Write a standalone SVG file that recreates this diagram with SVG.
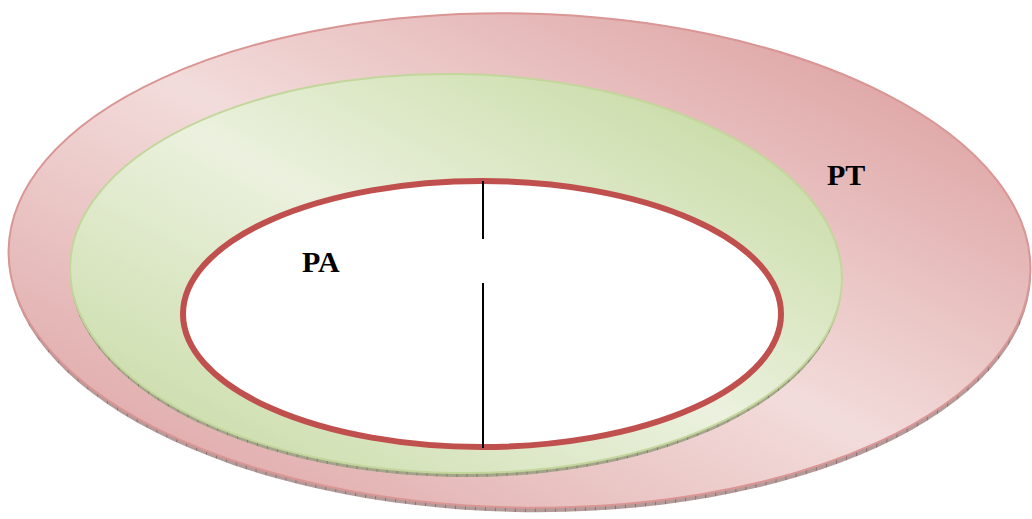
<svg xmlns="http://www.w3.org/2000/svg" width="1032" height="519" viewBox="0 0 1032 519">
  <style>
    .lbl { font-family: "Liberation Serif", "Times New Roman", serif; font-weight: bold; font-size: 30px; fill: #000; }
    .edge { stroke: none; }
    .lumen { fill: #ffffff; stroke: #c0504d; stroke-width: 6; }
    .axis { stroke: #000; stroke-width: 2; }
  </style>
  <defs>
    <linearGradient id="gPink" x1="1" y1="0" x2="0" y2="1">
      <stop offset="0" stop-color="#d99595"/>
      <stop offset="0.5" stop-color="#f2dcdb"/>
      <stop offset="1" stop-color="#dc9e9e"/>
    </linearGradient>
    <linearGradient id="gGreen" x1="1" y1="0" x2="0" y2="1">
      <stop offset="0" stop-color="#c0d698"/>
      <stop offset="0.5" stop-color="#ebf1de"/>
      <stop offset="1" stop-color="#c4d89f"/>
    </linearGradient>
    <pattern id="hatchPink" width="10" height="6" patternUnits="userSpaceOnUse">
      <rect width="10" height="6" fill="#b59a9a"/>
      <line x1="0" y1="0" x2="0" y2="6" stroke="#6a4545" stroke-width="1"/>
    </pattern>
    <pattern id="hatchGreen" width="10" height="6" patternUnits="userSpaceOnUse">
      <rect width="10" height="6" fill="#a3a48a"/>
      <line x1="0" y1="0" x2="0" y2="6" stroke="#5a5a45" stroke-width="1"/>
    </pattern>
  </defs>

  <g id="PT-disc">
    <ellipse class="edge" cx="520" cy="265" rx="511" ry="247" fill="url(#hatchPink)" transform="rotate(1.2 520 265)"/>
    <ellipse cx="519.5" cy="260.5" rx="511" ry="247" fill="url(#gPink)" stroke="#d99694" stroke-width="2" transform="rotate(1.2 520 260)"/>
  </g>

  <g id="PA-disc">
    <ellipse class="edge" cx="456" cy="277" rx="386" ry="200" fill="url(#hatchGreen)" transform="rotate(1 456 274)"/>
    <ellipse cx="456" cy="273.5" rx="386" ry="199.5" fill="url(#gGreen)" stroke="#c3d69b" stroke-width="2" transform="rotate(1 456 274)"/>
  </g>

  <g id="lumen">
    <ellipse class="lumen" cx="482" cy="314" rx="299" ry="133"/>
  </g>

  <g id="connectors">
    <line class="axis" x1="483" y1="181" x2="483" y2="239"/>
    <line class="axis" x1="483" y1="283" x2="483" y2="448"/>
  </g>

  <g id="labels">
    <text class="lbl" x="302" y="272">PA</text>
    <text class="lbl" x="827" y="185">PT</text>
  </g>
</svg>
